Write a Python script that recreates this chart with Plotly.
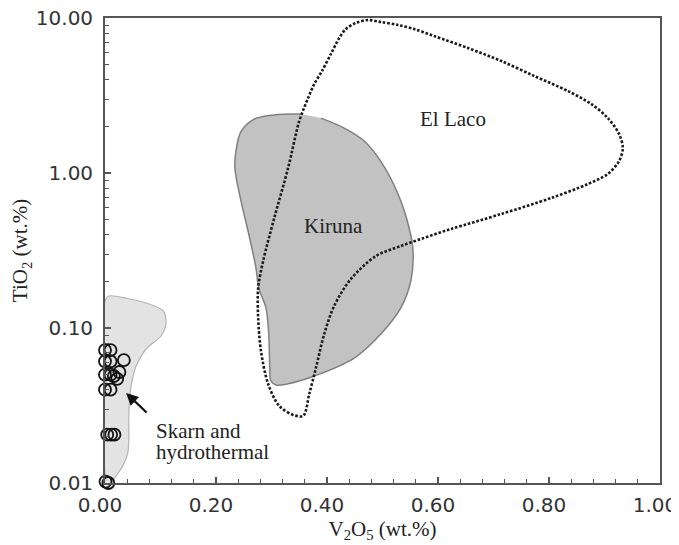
import math
import plotly.graph_objects as go

# ---- data ----
# Skarn and hydrothermal field (light grey)
skarn_x = [0.0, 0.0, 0.007, 0.040, 0.074, 0.105, 0.110, 0.101, 0.074, 0.056, 0.047,
           0.043, 0.043, 0.041, 0.032, 0.020, 0.011]
skarn_y = [0.0101, 0.150, 0.161, 0.155, 0.145, 0.129, 0.108, 0.0888, 0.0732, 0.0569, 0.0422,
           0.0283, 0.0201, 0.0156, 0.0129, 0.0111, 0.0100]

# Kiruna field (grey)
kiruna_x = [0.353, 0.305, 0.268, 0.245, 0.236, 0.234, 0.245, 0.259, 0.272, 0.277, 0.290, 0.295,
            0.297, 0.299, 0.308, 0.330, 0.377, 0.449, 0.497, 0.533, 0.551, 0.555, 0.548,
            0.528, 0.497, 0.467, 0.431, 0.389]
kiruna_y = [2.40, 2.37, 2.22, 1.85, 1.39, 1.08, 0.66, 0.404, 0.244, 0.181, 0.135, 0.0915,
            0.0552, 0.0455, 0.0429, 0.0437, 0.049, 0.064, 0.0915, 0.135, 0.201, 0.314, 0.442,
            0.732, 1.19, 1.61, 1.95, 2.26]

# El Laco field (dotted outline)
ellaco_x = [0.357, 0.339, 0.314, 0.294, 0.281, 0.276, 0.276, 0.285, 0.305, 0.330,
            0.350, 0.366, 0.377, 0.391, 0.407, 0.422, 0.434, 0.452, 0.474, 0.497,
            0.528, 0.557, 0.593, 0.654, 0.714, 0.773, 0.834, 0.876, 0.906, 0.926,
            0.933, 0.926, 0.906, 0.870, 0.804, 0.714, 0.623, 0.569, 0.533, 0.488,
            0.443, 0.413, 0.395, 0.380, 0.368, 0.357]
ellaco_y = [0.0271, 0.0275, 0.0314, 0.0435, 0.0711, 0.116, 0.181, 0.271, 0.513, 1.08,
            2.16, 3.05, 3.75, 4.55, 5.86, 7.43, 8.49, 9.29, 9.70, 9.42,
            9.01, 8.49, 7.65, 6.40, 5.28, 4.23, 3.38, 2.79, 2.26, 1.79,
            1.45, 1.19, 0.986, 0.849, 0.690, 0.544, 0.435, 0.375, 0.338, 0.291,
            0.207, 0.139, 0.0915, 0.0552, 0.0375, 0.0271]

# Samples (open circles)
sample_v2o5 = [0.0, 0.010, 0.0, 0.010, 0.034, 0.0, 0.010, 0.016, 0.026, 0.022,
               0.0, 0.010, 0.004, 0.011, 0.017, 0.001, 0.006]
sample_tio2 = [0.072, 0.072, 0.061, 0.061, 0.062, 0.050, 0.050, 0.049, 0.052, 0.047,
               0.040, 0.040, 0.0205, 0.0205, 0.0205, 0.0102, 0.0100]

# Field labels: (text, V2O5, TiO2)
field_labels = [("El Laco", 0.627, 2.23), ("Kiruna", 0.411, 0.455)]
skarn_label_lines = [("Skarn and", 0.088, 0.0217), ("hydrothermal", 0.088, 0.0158)]
arrow_tip = (0.038, 0.0381)

serif = "Liberation Serif, Times New Roman, serif"
sans = "DejaVu Sans, Arial, sans-serif"

fig = go.Figure()

fig.add_trace(go.Scatter(
    x=skarn_x, y=skarn_y, mode="lines", fill="toself",
    fillcolor="#e3e3e3", line=dict(color="#b4b4b4", width=1.2, shape="spline", smoothing=0.8),
    hoverinfo="skip"))

fig.add_trace(go.Scatter(
    x=kiruna_x, y=kiruna_y, mode="lines", fill="toself",
    fillcolor="#c2c2c2", line=dict(color="#808080", width=1.5, shape="spline", smoothing=1.0),
    hoverinfo="skip"))

fig.add_trace(go.Scatter(
    x=ellaco_x, y=ellaco_y, mode="lines",
    line=dict(color="#1a1a1a", width=2.6, dash="2.6px,1.8px", shape="spline", smoothing=0.9),
    hoverinfo="skip"))

fig.add_trace(go.Scatter(
    x=sample_v2o5, y=sample_tio2, mode="markers", cliponaxis=False,
    marker=dict(symbol="circle-open", size=12, color="#111111", line=dict(width=1.8)),
    hoverinfo="skip"))

annotations = []
for txt, xv, yv in field_labels:
    annotations.append(dict(x=xv, y=math.log10(yv), xref="x", yref="y", text=txt,
                            showarrow=False, font=dict(family=serif, size=21, color="#222")))
for txt, xv, yv in skarn_label_lines:
    annotations.append(dict(x=xv, y=math.log10(yv), xref="x", yref="y", text=txt,
                            showarrow=False, xanchor="left",
                            font=dict(family=serif, size=21, color="#222")))
annotations.append(dict(x=arrow_tip[0], y=math.log10(arrow_tip[1]), xref="x", yref="y",
                        text="", showarrow=True, ax=22, ay=21, arrowhead=2,
                        arrowsize=1.1, arrowwidth=2.2, arrowcolor="#111"))

# the page body adds an offset, so the figure is smaller and margins shifted
fig.update_layout(
    width=671, height=537,
    margin=dict(l=97, r=19, t=10, b=62, autoexpand=False),
    plot_bgcolor="white", paper_bgcolor="white",
    showlegend=False,
    annotations=annotations,
)

fig.update_xaxes(
    range=[0, 1], tick0=0, dtick=0.2, tickformat=".2f",
    ticks="inside", ticklen=6, tickwidth=1.5, tickcolor="#555",
    minor=dict(dtick=0.04, ticks="inside", ticklen=4, tickwidth=1.2, tickcolor="#555", showgrid=False),
    showline=True, linecolor="#555", linewidth=1.8, mirror=True,
    showgrid=False, zeroline=False, automargin=False,
    tickfont=dict(family=sans, size=20, color="#333"),
    ticklabelstandoff=3, ticklabelshift=-5, ticklabeloverflow="allow",
    title=dict(text="V<sub>2</sub>O<sub>5</sub> (wt.%)", standoff=2,
               font=dict(family=serif, size=21, color="#222")),
)

fig.update_yaxes(
    type="log", range=[-2, 1], dtick=1, tickformat=".2f",
    ticks="inside", ticklen=6, tickwidth=1.5, tickcolor="#555",
    minor=dict(dtick="D1", ticks="inside", ticklen=4, tickwidth=1.2, tickcolor="#555", showgrid=False),
    showline=True, linecolor="#555", linewidth=1.8, mirror=True,
    showgrid=False, zeroline=False, automargin=False,
    tickfont=dict(family=sans, size=20, color="#333"),
    ticklabelstandoff=6, ticklabeloverflow="allow",
    title=dict(text="TiO<sub>2</sub> (wt.%)", standoff=2,
               font=dict(family=serif, size=21, color="#222")),
)

fig.write_html("out.html")
